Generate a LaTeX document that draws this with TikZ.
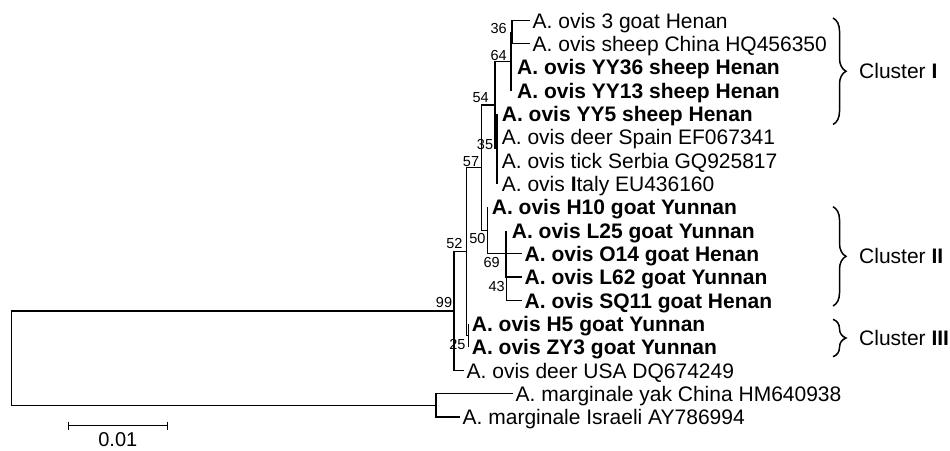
\documentclass[tikz,border=0pt]{standalone}
\usepackage{fontspec}
\setmainfont{Liberation Sans}
\usetikzlibrary{decorations.pathreplacing}
\begin{document}
\begin{tikzpicture}[x=1pt,y=-1pt,
  br/.style={line width=1.35pt},
  leaf/.style={anchor=west, inner ysep=0pt, inner xsep=0pt, text height=15pt, text depth=0pt, font=\fontsize{21}{25}\selectfont},
  bleaf/.style={leaf, font=\fontsize{21}{25}\selectfont\bfseries},
  tipleaf/.style={leaf, inner xsep=2.5pt},
  btipleaf/.style={tipleaf, font=\fontsize{21}{25}\selectfont\bfseries},
  boot/.style={anchor=east, inner sep=0pt, text height=10.5pt, text depth=0pt, font=\fontsize{14.5}{17}\selectfont},
  clbrace/.style={decorate, decoration={brace, amplitude=13pt}, line width=1.5pt},
  cl/.style={anchor=west, inner sep=0pt, text height=15pt, text depth=0pt, font=\fontsize{21}{25}\selectfont}]
\useasboundingbox (0,0) rectangle (950,450);

% leaves
\node[tipleaf] (L1) at (530,20.5) {A. ovis 3 goat Henan};
\node[tipleaf] (L2) at (530,43.8) {A. ovis sheep China HQ456350};
\node[bleaf] (L3) at (517,67.2) {A. ovis YY36 sheep Henan};
\node[bleaf] (L4) at (517,90.5) {A. ovis YY13 sheep Henan};
\node[bleaf] (L5) at (501.7,113.8) {A. ovis YY5 sheep Henan};
\node[leaf] (L6) at (501.7,137.2) {A. ovis deer Spain EF067341};
\node[leaf] (L7) at (501.7,160.5) {A. ovis tick Serbia GQ925817};
\node[leaf] (L8) at (501.7,183.8) {A. ovis \textbf{I}taly EU436160};
\node[bleaf] (L9) at (491.7,207.1) {A. ovis H10 goat Yunnan};
\node[bleaf] (L10) at (511.7,230.5) {A. ovis L25 goat Yunnan};
\node[btipleaf] (L11) at (522,253.8) {A. ovis O14 goat Henan};
\node[btipleaf] (L12) at (522,277.1) {A. ovis L62 goat Yunnan};
\node[btipleaf] (L13) at (522,300.5) {A. ovis SQ11 goat Henan};
\node[bleaf] (L14) at (471.7,323.8) {A. ovis H5 goat Yunnan};
\node[bleaf] (L15) at (471.7,347.1) {A. ovis ZY3 goat Yunnan};
\node[tipleaf] (L16) at (464,370.5) {A. ovis deer USA DQ674249};
\node[tipleaf] (L17) at (513,393.8) {A. marginale yak China HM640938};
\node[tipleaf] (L18) at (460,417.1) {A. marginale Israeli AY786994};

% internal nodes
\coordinate (root) at (11.7,358.2);
\coordinate (n99) at (454,311);
\coordinate (nm) at (436,405.5);
\coordinate (n52) at (466.7,251.6);
\coordinate (n57) at (481.7,167.7);
\coordinate (n54) at (495,105);
\coordinate (n64) at (511,61.3);
\coordinate (n36) at (512,32.2);
\coordinate (n35) at (497,148.8);
\coordinate (n50) at (487.5,230.5);
\coordinate (n69) at (506,253.8);
\coordinate (n43) at (506.7,277.1);
\coordinate (n25) at (468.5,335.5);

% branches
\draw[br] (root) |- (n99);
\draw[br] (root) |- (nm);
\draw[br] (n99) |- (n52);
\draw[br] (n99) |- (L16);
\draw[br] (nm) |- (L17);
\draw[br] (nm) |- (L18);
\draw[br] (n52) |- (n57);
\draw[br] (n52) |- (n25);
\draw[br] (n57) |- (n54);
\draw[br] (n57) |- (n50);
\draw[br] (n54) |- (n64);
\draw[br] (n54) |- (n35);
\draw[br] (n64) |- (n36);
\draw[br] (n64) -- (n64 |- L4);
\draw[br] (n36) |- (L1);
\draw[br] (n36) |- (L2);
\draw[br] (n35 |- L5) -- (n35 |- L8);
\draw[br] (n50) -- (n50 |- L9);
\draw[br] (n50) |- (n69);
\draw[br] (n69) -- (n69 |- L10);
\draw[br] (n69) |- (n43);
\draw[br] (n43) |- (L11);
\draw[br] (n43) |- (L12);
\draw[br] (n43) |- (L13);
\draw[br] (n25 |- L14) -- (n25 |- L15);

% bootstrap values
\node[boot] (b36) at (507,28.3) {36};
\node[boot] (b64) at (507,55) {64};
\node[boot] (b54) at (489,97.3) {54};
\node[boot] (b35) at (493.3,144) {35};
\node[boot] (b57) at (479.3,161.7) {57};
\node[boot] (b50) at (485.7,238.5) {50};
\node[boot] (b52) at (462.7,243.3) {52};
\node[boot] (b69) at (500,262.3) {69};
\node[boot] (b43) at (505,286.5) {43};
\node[boot] (b99) at (452.3,302.3) {99};
\node[boot] (b25) at (465.7,344) {25};

% clusters
\coordinate (c1t) at (833,18);
\coordinate (c1b) at (833,124.5);
\coordinate (c2t) at (833,206.7);
\coordinate (c2b) at (833,306);
\coordinate (c3t) at (833,319.3);
\coordinate (c3b) at (833,356.7);
\draw[clbrace] (c1t) -- (c1b);
\draw[clbrace] (c2t) -- (c2b);
\draw[clbrace] (c3t) -- (c3b);
\node[cl] (cl1) at (859,71.3) {Cluster \textbf{I}};
\node[cl] (cl2) at (859,256.3) {Cluster \textbf{II}};
\node[cl] (cl3) at (859,338) {Cluster \textbf{III}};

% scale bar
\coordinate (s1) at (68.3,425.7);
\coordinate (s2) at (167.3,425.7);
\draw[br] (s1) -- (s2);
\draw[br] ([yshift=4pt]s1) -- ([yshift=-4pt]s1);
\draw[br] ([yshift=4pt]s2) -- ([yshift=-4pt]s2);
\node[anchor=center, inner sep=0pt, text height=14pt, text depth=0pt, font=\fontsize{20}{24}\selectfont] (sl) at (117.8,439) {0.01};
\end{tikzpicture}
\end{document}
